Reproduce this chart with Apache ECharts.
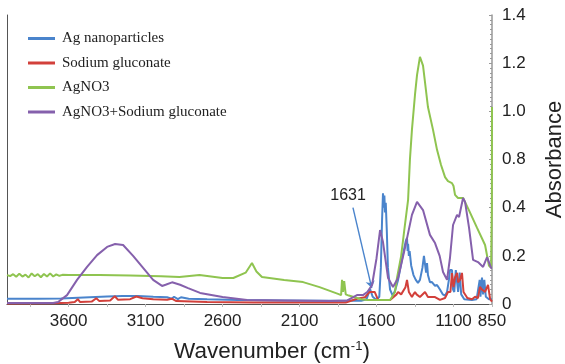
<!DOCTYPE html>
<html>
<head>
<meta charset="utf-8">
<script src="https://cdn.jsdelivr.net/npm/echarts@6/dist/echarts.min.js"></script>
<style>
  html, body { margin: 0; padding: 0; background: #ffffff; }
  #chart { width: 565px; height: 364px; }
</style>
</head>
<body>
<div id="chart"></div>
<script>
// FTIR absorbance spectra, [wavenumber (cm-1), absorbance]
const seriesNames = ['Ag nanoparticles', 'Sodium gluconate', 'AgNO3', 'AgNO3+Sodium gluconate'];
const seriesColors = ['#4a84cc', '#d2403b', '#8fc450', '#8560ac'];

const agNanoparticles = [
  [4000, 0.022], [3800, 0.022], [3650, 0.023], [3500, 0.027], [3350, 0.031], [3250, 0.033],
  [3150, 0.033], [3050, 0.03], [2960, 0.028], [2930, 0.022], [2915, 0.03], [2890, 0.02],
  [2870, 0.028], [2820, 0.022], [2700, 0.02], [2500, 0.017], [2200, 0.015], [1900, 0.013],
  [1700, 0.013], [1665, 0.02], [1642, 0.062], [1625, 0.03], [1600, 0.017], [1582, 0.03],
  [1572, 0.15], [1564, 0.35], [1558, 0.46], [1553, 0.4], [1549, 0.45], [1545, 0.38],
  [1540, 0.42], [1533, 0.3], [1526, 0.15], [1512, 0.06], [1495, 0.035], [1480, 0.055],
  [1460, 0.1], [1430, 0.2], [1410, 0.262], [1402, 0.274], [1398, 0.22], [1395, 0.25],
  [1390, 0.2], [1385, 0.22], [1375, 0.16], [1360, 0.12], [1345, 0.1], [1331, 0.088],
  [1318, 0.1], [1302, 0.15], [1292, 0.2], [1285, 0.203], [1278, 0.13], [1272, 0.17],
  [1266, 0.12], [1253, 0.09], [1240, 0.091], [1220, 0.075], [1207, 0.079], [1188, 0.06],
  [1170, 0.04], [1155, 0.035], [1142, 0.05], [1130, 0.1], [1123, 0.141], [1110, 0.141],
  [1103, 0.06], [1095, 0.05], [1085, 0.141], [1077, 0.133], [1070, 0.05], [1060, 0.13],
  [1050, 0.04], [1030, 0.02], [980, 0.017], [950, 0.02], [930, 0.1], [925, 0.03],
  [915, 0.11], [908, 0.04], [900, 0.1], [890, 0.03], [870, 0.02], [850, 0.02]
];

const sodiumGluconate = [
  [4000, 0.002], [3700, 0.003], [3600, 0.005], [3560, 0.008], [3540, 0.02], [3525, 0.008],
  [3450, 0.01], [3420, 0.024], [3400, 0.012], [3330, 0.015], [3300, 0.032], [3280, 0.018],
  [3200, 0.02], [3160, 0.031], [3120, 0.024], [3050, 0.02], [2960, 0.018], [2930, 0.022],
  [2900, 0.012], [2700, 0.008], [2400, 0.006], [2000, 0.006], [1800, 0.006], [1727, 0.022],
  [1675, 0.028], [1645, 0.05], [1612, 0.05], [1590, 0.017], [1512, 0.017], [1470, 0.04],
  [1460, 0.05], [1440, 0.04], [1412, 0.07], [1402, 0.1], [1390, 0.05], [1370, 0.029],
  [1360, 0.04], [1350, 0.05], [1340, 0.04], [1318, 0.029], [1285, 0.05], [1266, 0.029],
  [1220, 0.029], [1188, 0.017], [1155, 0.025], [1136, 0.05], [1120, 0.05], [1110, 0.128],
  [1100, 0.07], [1090, 0.11], [1077, 0.129], [1070, 0.09], [1058, 0.1], [1045, 0.129],
  [1035, 0.05], [1010, 0.025], [980, 0.02], [960, 0.03], [941, 0.025], [928, 0.071],
  [915, 0.06], [895, 0.05], [876, 0.079], [862, 0.02], [850, 0.01]
];

const agNO3 = [
  [4000, 0.12], [3980, 0.116], [3960, 0.124], [3940, 0.113], [3920, 0.126], [3900, 0.114],
  [3880, 0.122], [3860, 0.11], [3840, 0.127], [3820, 0.115], [3800, 0.124], [3780, 0.111],
  [3760, 0.125], [3740, 0.114], [3720, 0.127], [3700, 0.114], [3680, 0.123], [3660, 0.117],
  [3640, 0.121], [3600, 0.12], [3400, 0.12], [3200, 0.118], [3000, 0.115], [2880, 0.112],
  [2750, 0.12], [2600, 0.108], [2530, 0.108], [2450, 0.13], [2409, 0.17], [2380, 0.135],
  [2344, 0.112], [2200, 0.1], [2077, 0.091], [1970, 0.07], [1850, 0.042], [1830, 0.037],
  [1824, 0.1], [1818, 0.05], [1810, 0.095], [1800, 0.04], [1780, 0.035], [1700, 0.02],
  [1660, 0.017], [1550, 0.017], [1512, 0.017], [1480, 0.05], [1467, 0.108], [1440, 0.2],
  [1421, 0.3], [1395, 0.432], [1383, 0.6], [1370, 0.723], [1350, 0.87], [1337, 0.95],
  [1318, 1.026], [1298, 0.99], [1266, 0.818], [1233, 0.723], [1207, 0.64], [1181, 0.577],
  [1155, 0.527], [1136, 0.51], [1110, 0.502], [1100, 0.49], [1090, 0.453], [1071, 0.44],
  [1038, 0.44], [1000, 0.39], [947, 0.316], [895, 0.245], [870, 0.16], [856, 0.15],
  [851, 0.4], [850, 0.818]
];

const agNO3Gluconate = [
  [4000, 0.004], [3700, 0.004], [3668, 0.008], [3610, 0.037], [3545, 0.1], [3480, 0.154],
  [3415, 0.203], [3350, 0.237], [3298, 0.249], [3246, 0.245], [3181, 0.2], [3116, 0.15],
  [3051, 0.1], [2993, 0.075], [2970, 0.08], [2928, 0.09], [2876, 0.08], [2824, 0.066],
  [2746, 0.046], [2600, 0.029], [2441, 0.017], [2200, 0.015], [1900, 0.012], [1790, 0.015],
  [1727, 0.037], [1688, 0.037], [1660, 0.05], [1629, 0.079], [1600, 0.19], [1577, 0.307],
  [1558, 0.257], [1525, 0.108], [1493, 0.071], [1460, 0.108], [1415, 0.233], [1370, 0.37],
  [1337, 0.424], [1298, 0.39], [1253, 0.287], [1220, 0.253], [1190, 0.2], [1168, 0.133],
  [1142, 0.1], [1123, 0.191], [1103, 0.328], [1077, 0.37], [1064, 0.361], [1038, 0.44],
  [1025, 0.424], [999, 0.316], [973, 0.183], [941, 0.174], [908, 0.154], [882, 0.195],
  [856, 0.15], [850, 0.15]
];

const seriesData = [agNanoparticles, sodiumGluconate, agNO3, agNO3Gluconate];

// axis ticks and labels
const xRange = [850, 4000];
const xTickLabels = [3600, 3100, 2600, 2100, 1600, 1100, 850];
const xTickMarks = [850, 1100, 1350, 1600, 1850, 2100, 2350, 2600, 2850, 3100, 3350, 3600, 3850];
const yRange = [0, 1.2];
const yStep = 0.2;
const yTickLabels = ['0', '0.2', '0.4', '0.8', '1.0', '1.2', '1.4'];

// annotated band with its pointer
const bandWavenumber = 1631;
const bandAbsorbance = 0.066;
const pointerTail = [1753, 0.4];
const bandTextAt = [1785, 0.452];

const chart = echarts.init(document.getElementById('chart'), null, { renderer: 'canvas' });

const series = seriesNames.map((name, i) => ({
  name: name,
  type: 'line',
  data: seriesData[i],
  showSymbol: false,
  symbol: 'none',
  lineStyle: { width: 2, color: seriesColors[i] },
  itemStyle: { color: seriesColors[i] },
  z: 3 + i
}));

series[0].markLine = {
  silent: true,
  symbol: ['none', 'arrow'],
  symbolSize: 7,
  lineStyle: { color: seriesColors[0], width: 1.4, type: 'solid' },
  label: { show: false },
  data: [[{ coord: pointerTail }, { coord: [bandWavenumber, bandAbsorbance] }]]
};
series[0].markPoint = {
  silent: true,
  symbol: 'rect',
  symbolSize: 1,
  itemStyle: { color: 'rgba(0,0,0,0)' },
  label: {
    show: true,
    position: 'inside',
    formatter: String(bandWavenumber),
    color: '#222',
    fontSize: 16,
    fontFamily: 'Liberation Sans'
  },
  data: [{ coord: bandTextAt }]
};

const option = {
  animation: false,
  backgroundColor: '#ffffff',
  grid: { left: 7, right: 73, top: 15, bottom: 60, outerBoundsMode: 'none', containLabel: false },
  legend: {
    data: seriesNames,
    orient: 'vertical',
    left: 28,
    top: 31,
    padding: 0,
    icon: 'rect',
    itemWidth: 27,
    itemHeight: 3,
    itemGap: 9.5,
    textStyle: {
      fontFamily: 'Liberation Serif', fontSize: 15, color: '#222',
      lineHeight: 15, padding: [0, 0, 0, 2]
    }
  },
  xAxis: [
    {
      type: 'value',
      min: xRange[0],
      max: xRange[1],
      inverse: true,
      position: 'bottom',
      axisLine: { show: true, lineStyle: { color: '#c8c8c8', width: 1 } },
      axisTick: { show: true, customValues: xTickMarks, length: 3, lineStyle: { color: '#bbbbbb' } },
      axisLabel: {
        customValues: xTickLabels,
        formatter: (v) => String(v),
        fontSize: 17,
        color: '#222',
        fontFamily: 'Liberation Sans',
        margin: 9
      },
      splitLine: { show: false },
      name: '{a|Wavenumber (cm}{s|-1}{a|)}',
      nameLocation: 'middle',
      nameGap: 36,
      nameTextStyle: {
        padding: [0, 0, 0, 45],
        rich: {
          a: { fontSize: 22.5, color: '#222', fontFamily: 'Liberation Sans' },
          s: { fontSize: 13, color: '#222', fontFamily: 'Liberation Sans', padding: [0, 0, 10, 0] }
        }
      }
    },
    {
      type: 'value',
      min: xRange[0],
      max: xRange[1],
      inverse: true,
      position: 'top',
      axisLine: { show: true, lineStyle: { color: '#555555', width: 1 } },
      axisTick: { show: false },
      axisLabel: { show: false },
      splitLine: { show: false }
    }
  ],
  yAxis: [
    {
      type: 'value',
      min: yRange[0],
      max: yRange[1],
      interval: yStep,
      position: 'right',
      axisLine: { show: true, lineStyle: { color: '#999999', width: 1.5 } },
      axisTick: { show: true, inside: true, length: 3, lineStyle: { color: '#999999' } },
      minorTick: { show: true, splitNumber: 10, length: 2, lineStyle: { color: '#999999' } },
      axisLabel: {
        formatter: (v) => yTickLabels[Math.round(v / yStep)],
        fontSize: 17,
        color: '#222',
        fontFamily: 'Liberation Sans',
        margin: 10
      },
      splitLine: { show: false },
      name: 'Absorbance',
      nameLocation: 'middle',
      nameRotate: 90,
      nameGap: 52,
      nameTextStyle: { fontSize: 22, color: '#222', fontFamily: 'Liberation Sans' }
    },
    {
      type: 'value',
      min: yRange[0],
      max: yRange[1],
      position: 'left',
      axisLine: { show: true, lineStyle: { color: '#555555', width: 1 } },
      axisTick: { show: false },
      axisLabel: { show: false },
      splitLine: { show: false }
    }
  ],
  series: series
};

chart.setOption(option);
</script>
</body>
</html>
